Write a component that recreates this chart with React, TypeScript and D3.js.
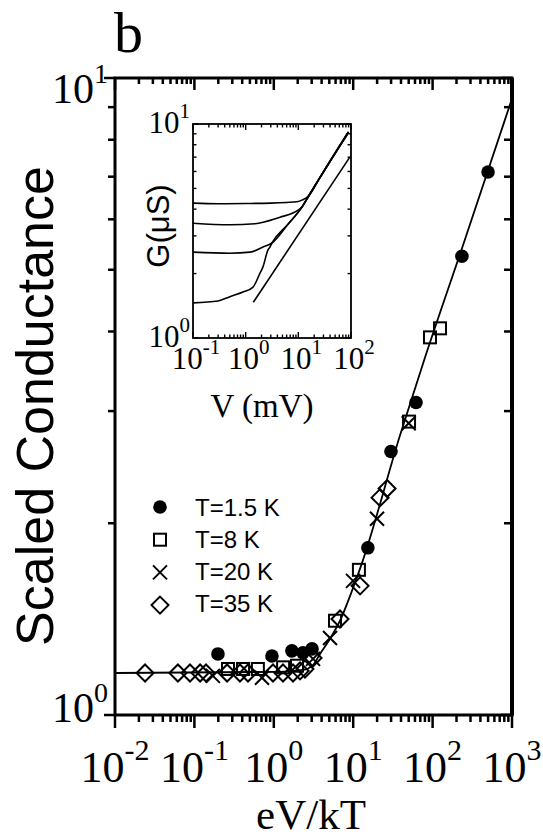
import React from "react";
import * as d3 from "d3";

const W = 543;
const H = 840;

// ---- main panel data ----
const mainXDecades = [-2, -1, 0, 1, 2, 3];
const mainYDecades = [0, 1];

const fitX = [0.01, 1.2, 2.33, 3.12, 3.82, 5.11, 6.82, 9.66, 12.8, 38.8, 80.2, 234, 1000];
const fitG = [1.164, 1.169, 1.177, 1.198, 1.247, 1.317, 1.406, 1.567, 1.727, 2.746, 3.641, 5.4, 9.28];

const t15X = [0.198, 0.948, 1.69, 2.33, 3.03, 15.3, 29.9, 61.8, 234, 499];
const t15G = [1.247, 1.238, 1.261, 1.252, 1.27, 1.83, 2.592, 3.094, 5.25, 7.12];

const t8X = [0.265, 0.41, 0.63, 1.31, 1.96, 5.9, 11.8, 50.5, 92.7, 124];
const t8G = [1.181, 1.181, 1.181, 1.188, 1.195, 1.406, 1.69, 2.888, 3.916, 4.046];

const t20X = [0.171, 0.71, 3.12, 5.11, 9.95, 19.95, 50];
const t20G = [1.152, 1.144, 1.225, 1.321, 1.624, 2.033, 2.87];

const t35X = [0.0239, 0.062, 0.088, 0.118, 0.14, 0.258, 0.375, 0.473, 0.977, 1.306, 1.746, 2.14, 2.47, 3.12, 6.82, 12.2, 21.8, 26.7];
const t35G = [1.164, 1.164, 1.164, 1.164, 1.164, 1.164, 1.164, 1.164, 1.164, 1.164, 1.164, 1.173, 1.181, 1.229, 1.415, 1.595, 2.194, 2.267];

const legendLabels = ["T=1.5 K", "T=8 K", "T=20 K", "T=35 K"];

// ---- inset data (V in mV, G in uS) ----
const insetXDecades = [-1, 0, 1, 2];
const insetYDecades = [0, 1];

const inAV = [0.1, 0.3, 1, 3, 6, 9.4, 12, 15.8, 25, 45, 87];
const inAG = [4.27, 4.24, 4.25, 4.27, 4.3, 4.33, 4.42, 4.62, 5.56, 7.0, 9.08];
const inBV = [0.1, 0.5, 1.5, 4.5, 7.9, 11.7, 15.8, 25, 45, 88];
const inBG = [3.44, 3.38, 3.42, 3.67, 3.84, 4.09, 4.62, 5.56, 7.05, 9.15];
const inCV = [0.1, 0.5, 1.21, 2.13, 3.16, 6.3, 11.7, 15.8, 25, 45, 90];
const inCG = [2.52, 2.49, 2.52, 2.66, 2.78, 3.39, 4.09, 4.62, 5.56, 7.0, 9.2];
const inDV = [0.1, 0.3, 0.5, 0.89, 1.38, 1.87, 2.13, 2.65, 2.89, 3.16, 6.3, 11.7, 15.8, 25, 45, 85];
const inDG = [1.46, 1.49, 1.56, 1.64, 1.73, 2.01, 2.15, 2.58, 2.66, 2.78, 3.39, 4.09, 4.62, 5.56, 7.0, 8.9];
const inLV = [1.4, 95];
const inLG = [1.47, 7.0];

const SERIF = "'Liberation Serif', 'Times New Roman', serif";
const SANS = "'Liberation Sans', Arial, Helvetica, sans-serif";

function minorValues(decades: number[]) {
  const out: number[] = [];
  for (let i = 0; i < decades.length - 1; i++) {
    for (let k = 2; k <= 9; k++) out.push(k * Math.pow(10, decades[i]));
  }
  return out;
}

function Pow({ x, y, exp, size, supSize, supDy, anchor }: any) {
  return (
    <text x={x} y={y} fontFamily={SERIF} fontSize={size} textAnchor={anchor} fill="#000">
      <tspan>10</tspan>
      <tspan fontSize={supSize} dy={supDy}>{String(exp)}</tspan>
    </text>
  );
}

function Marker({ type, cx, cy }: any) {
  if (type === 0) return <circle cx={cx} cy={cy} r={6.8} fill="#000" />;
  if (type === 1)
    return <rect x={cx - 6} y={cy - 6} width={12} height={12} fill="none" stroke="#000" strokeWidth={2} />;
  if (type === 2)
    return (
      <g stroke="#000" strokeWidth={2}>
        <line x1={cx - 7} y1={cy - 7} x2={cx + 7} y2={cy + 7} />
        <line x1={cx - 7} y1={cy + 7} x2={cx + 7} y2={cy - 7} />
      </g>
    );
  return (
    <path
      d={`M${cx},${cy - 8.5}L${cx + 8.5},${cy}L${cx},${cy + 8.5}L${cx - 8.5},${cy}Z`}
      fill="none"
      stroke="#000"
      strokeWidth={2}
    />
  );
}

export default function App() {
  const mx = d3.scaleLog().domain([1e-2, 1e3]).range([115, 512]);
  const my = d3.scaleLog().domain([1, 10]).range([715, 78]);
  const ix = d3.scaleLog().domain([0.1, 100]).range([193, 351]);
  const iy = d3.scaleLog().domain([1, 10]).range([338, 124]);

  const mainLine = d3
    .line<number>()
    .x((d, i) => mx(fitX[i]))
    .y((d, i) => my(fitG[i]))
    .curve(d3.curveMonotoneX);

  const insetLine = (vs: number[], gs: number[]) =>
    d3
      .line<number>()
      .x((d, i) => ix(vs[i]))
      .y((d, i) => iy(gs[i]))
      .curve(d3.curveMonotoneX)(vs) as string;

  const series = [
    { xs: t15X, gs: t15G },
    { xs: t8X, gs: t8G },
    { xs: t20X, gs: t20G },
    { xs: t35X, gs: t35G },
  ];

  const mXmaj = mainXDecades.map((d) => Math.pow(10, d));
  const mXmin = minorValues(mainXDecades);
  const mYmaj = mainYDecades.map((d) => Math.pow(10, d));
  const mYmin = minorValues(mainYDecades);
  const iXmaj = insetXDecades.map((d) => Math.pow(10, d));
  const iXmin = minorValues(insetXDecades);
  const iYmaj = insetYDecades.map((d) => Math.pow(10, d));
  const iYmin = minorValues(insetYDecades);

  const [mx0, mx1] = mx.range();
  const [my0, my1] = my.range();
  const [ix0, ix1] = ix.range();
  const [iy0, iy1] = iy.range();

  return (
    <svg
      width={W}
      height={H}
      viewBox={`0 0 ${W} ${H}`}
      style={{ position: "absolute", left: 0, top: 0, background: "#fff" }}
    >
      <rect x={0} y={0} width={W} height={H} fill="#fff" />
      {/* panel label */}
      <text x={114} y={52} fontFamily={SERIF} fontSize={58} fill="#000">b</text>

      {/* main frame */}
      <rect x={mx0} y={my1} width={mx1 - mx0} height={my0 - my1} fill="none" stroke="#000" strokeWidth={3} />
      <line x1={mx1} y1={my1} x2={mx1} y2={my0} stroke="#000" strokeWidth={4} />

      {/* main ticks: bottom/left outward, top/right inward */}
      <g stroke="#000" strokeWidth={2.5}>
        {mXmaj.map((v, i) => (
          <g key={"mxM" + i}>
            <line x1={mx(v)} x2={mx(v)} y1={my0} y2={my0 + 13} />
            <line x1={mx(v)} x2={mx(v)} y1={my1} y2={my1 + 12} />
          </g>
        ))}
        {mXmin.map((v, i) => (
          <g key={"mxm" + i}>
            <line x1={mx(v)} x2={mx(v)} y1={my0} y2={my0 + 7} />
            <line x1={mx(v)} x2={mx(v)} y1={my1} y2={my1 + 6} />
          </g>
        ))}
        {mYmaj.map((v, i) => (
          <g key={"myM" + i}>
            <line x1={mx0 - 11} x2={mx0} y1={my(v)} y2={my(v)} />
            <line x1={mx1 - 11} x2={mx1} y1={my(v)} y2={my(v)} />
          </g>
        ))}
        {mYmin.map((v, i) => (
          <g key={"mym" + i}>
            <line x1={mx0 - 7} x2={mx0} y1={my(v)} y2={my(v)} />
            <line x1={mx1 - 8} x2={mx1} y1={my(v)} y2={my(v)} />
          </g>
        ))}
      </g>

      {/* main tick labels */}
      {mainXDecades.map((d) => (
        <Pow key={"mxl" + d} x={mx(Math.pow(10, d))} y={my0 + 67} exp={d} size={44} supSize={30} supDy={-22} anchor="middle" />
      ))}
      {mainYDecades.map((d, i) => (
        <Pow key={"myl" + d} x={108} y={my(Math.pow(10, d)) + (i === 0 ? 7 : 25)} exp={d} size={42} supSize={28} supDy={-20} anchor="end" />
      ))}

      {/* axis titles */}
      <text x={311} y={829} fontFamily={SERIF} fontSize={43} textAnchor="middle" fill="#000">eV/kT</text>
      <text
        transform={`translate(53,406) rotate(-90)`}
        fontFamily={SANS}
        fontSize={52}
        textAnchor="middle"
        fill="#000"
      >
        Scaled Conductance
      </text>

      {/* fit curve */}
      <path d={mainLine(fitX) as string} fill="none" stroke="#000" strokeWidth={1.8} />

      {/* data markers */}
      {series.map((s, si) =>
        s.xs.map((xv, j) => <Marker key={`p${si}-${j}`} type={si} cx={mx(xv)} cy={my(s.gs[j])} />)
      )}

      {/* legend */}
      {legendLabels.map((lab, i) => (
        <g key={"lg" + i}>
          <Marker type={i} cx={160} cy={507 + i * 32.7} />
          <text x={195} y={516 + i * 32} fontFamily={SANS} fontSize={24} fill="#000">{lab}</text>
        </g>
      ))}

      {/* inset */}
      <rect x={ix0} y={iy1} width={ix1 - ix0} height={iy0 - iy1} fill="#fff" stroke="#000" strokeWidth={1.8} />
      <g stroke="#000" strokeWidth={1.4}>
        {iXmaj.map((v, i) => (
          <g key={"ixM" + i}>
            <line x1={ix(v)} x2={ix(v)} y1={iy0} y2={iy0 - 6} />
            <line x1={ix(v)} x2={ix(v)} y1={iy1} y2={iy1 + 6} />
          </g>
        ))}
        {iXmin.map((v, i) => (
          <g key={"ixm" + i}>
            <line x1={ix(v)} x2={ix(v)} y1={iy0} y2={iy0 - 3.5} />
            <line x1={ix(v)} x2={ix(v)} y1={iy1} y2={iy1 + 3.5} />
          </g>
        ))}
        {iYmaj.map((v, i) => (
          <g key={"iyM" + i}>
            <line x1={ix0} x2={ix0 + 6} y1={iy(v)} y2={iy(v)} />
            <line x1={ix1} x2={ix1 - 6} y1={iy(v)} y2={iy(v)} />
          </g>
        ))}
        {iYmin.map((v, i) => (
          <g key={"iym" + i}>
            <line x1={ix0} x2={ix0 + 3.5} y1={iy(v)} y2={iy(v)} />
            <line x1={ix1} x2={ix1 - 3.5} y1={iy(v)} y2={iy(v)} />
          </g>
        ))}
      </g>
      {insetXDecades.map((d) => (
        <Pow key={"ixl" + d} x={ix(Math.pow(10, d)) + 3} y={iy0 + 31} exp={d} size={31} supSize={21} supDy={-15} anchor="middle" />
      ))}
      {insetYDecades.map((d) => (
        <Pow key={"iyl" + d} x={190} y={iy(Math.pow(10, d)) + 9} exp={d} size={31} supSize={21} supDy={-15} anchor="end" />
      ))}
      <text x={262} y={417} fontFamily={SERIF} fontSize={33} textAnchor="middle" fill="#000">V (mV)</text>
      <text transform={`translate(169,226) rotate(-90)`} fontFamily={SANS} fontSize={31} textAnchor="middle" fill="#000">
        G(μS)
      </text>
      <g fill="none" stroke="#000" strokeWidth={1.6}>
        <path d={insetLine(inAV, inAG)} />
        <path d={insetLine(inBV, inBG)} />
        <path d={insetLine(inCV, inCG)} />
        <path d={insetLine(inDV, inDG)} />
        <path d={insetLine(inLV, inLG)} />
      </g>
    </svg>
  );
}
